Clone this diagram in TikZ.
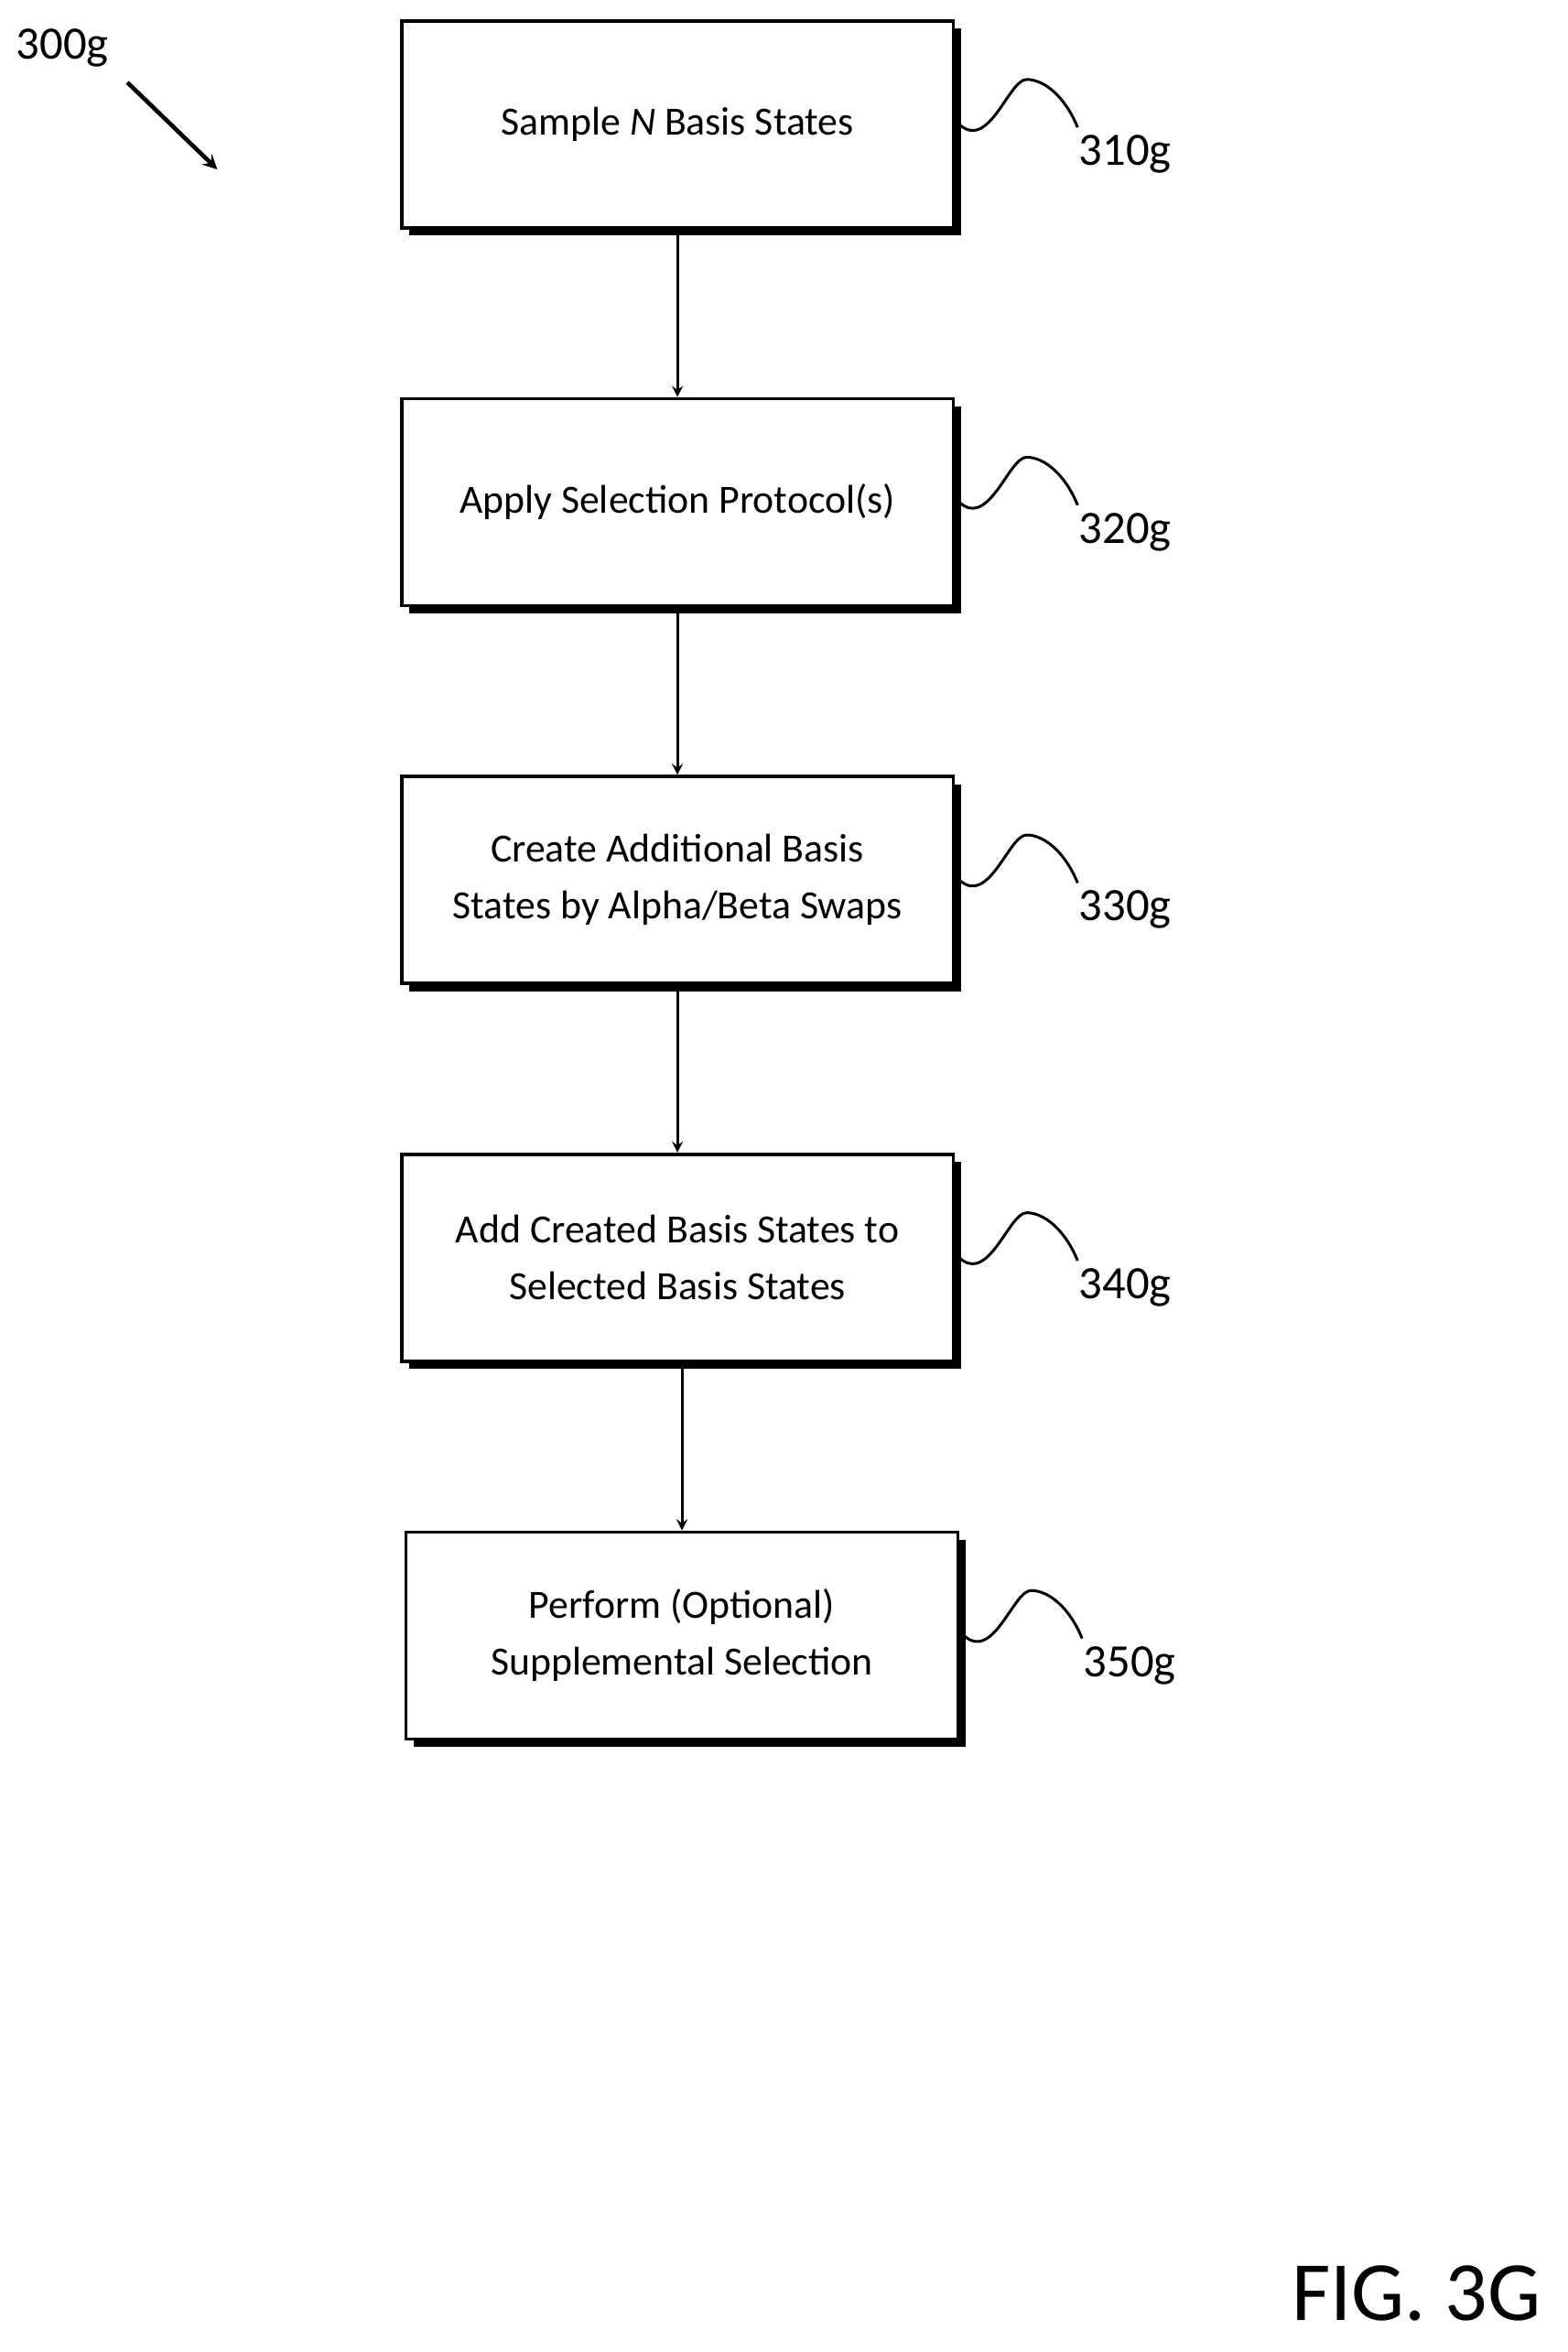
\documentclass[tikz,border=0pt]{standalone}
\usepackage{fontspec}
\setmainfont{Carlito}
\usetikzlibrary{shadows}

\tikzset{
  stepbox/.style={draw, line width=1.6pt, fill=white, minimum width=9.2cm, minimum height=3.45cm,
    align=center, font=\fontsize{19}{27}\selectfont,
    drop shadow={opacity=1, fill=black, shadow xshift=0.13cm, shadow yshift=-0.13cm}},
  ref/.style={font=\fontsize{22}{26}\selectfont, anchor=west, inner sep=0pt},
}

\begin{document}
\begin{tikzpicture}[x=0.025cm, y=-0.025cm, >=stealth, line width=1.3pt]
\useasboundingbox (0,0) rectangle (1046,1569);

\node[stepbox] (b1) at (452,83) {Sample \textit{N} Basis States};
\node[stepbox] (b2) at (452,335) {Apply Selection Protocol(s)};
\node[stepbox] (b3) at (452,587) {Create Additional Basis\\States by Alpha/Beta Swaps};
\node[stepbox] (b4) at (452,839) {Add Created Basis States to\\Selected Basis States};
\node[stepbox] (b5) at (455,1091) {Perform (Optional)\\Supplemental Selection};

\draw[->] (b1) -- (b2);
\draw[->] (b2) -- (b3);
\draw[->] (b3) -- (b4);
\draw[->] (b4.south -| b5) -- (b5);

% reference squiggles
\foreach \b/\t in {b1/310g, b2/320g, b3/330g, b4/340g, b5/350g}
  \draw ([xshift=2pt]\b.east) .. controls +(20,18) and +(-12,0) .. ++(45,-30)
        .. controls +(12,0) and +(-8,-20) .. ++(34,32)
        node[ref, yshift=-0.45cm] {\t};

\node[ref] (fig) at (10,32) {300g};
\draw[->, line width=2pt] (85,55) -- (145,113);

\node[font=\fontsize{40}{48}\selectfont] (title) at (945,1530) {FIG. 3G};
\end{tikzpicture}
\end{document}
